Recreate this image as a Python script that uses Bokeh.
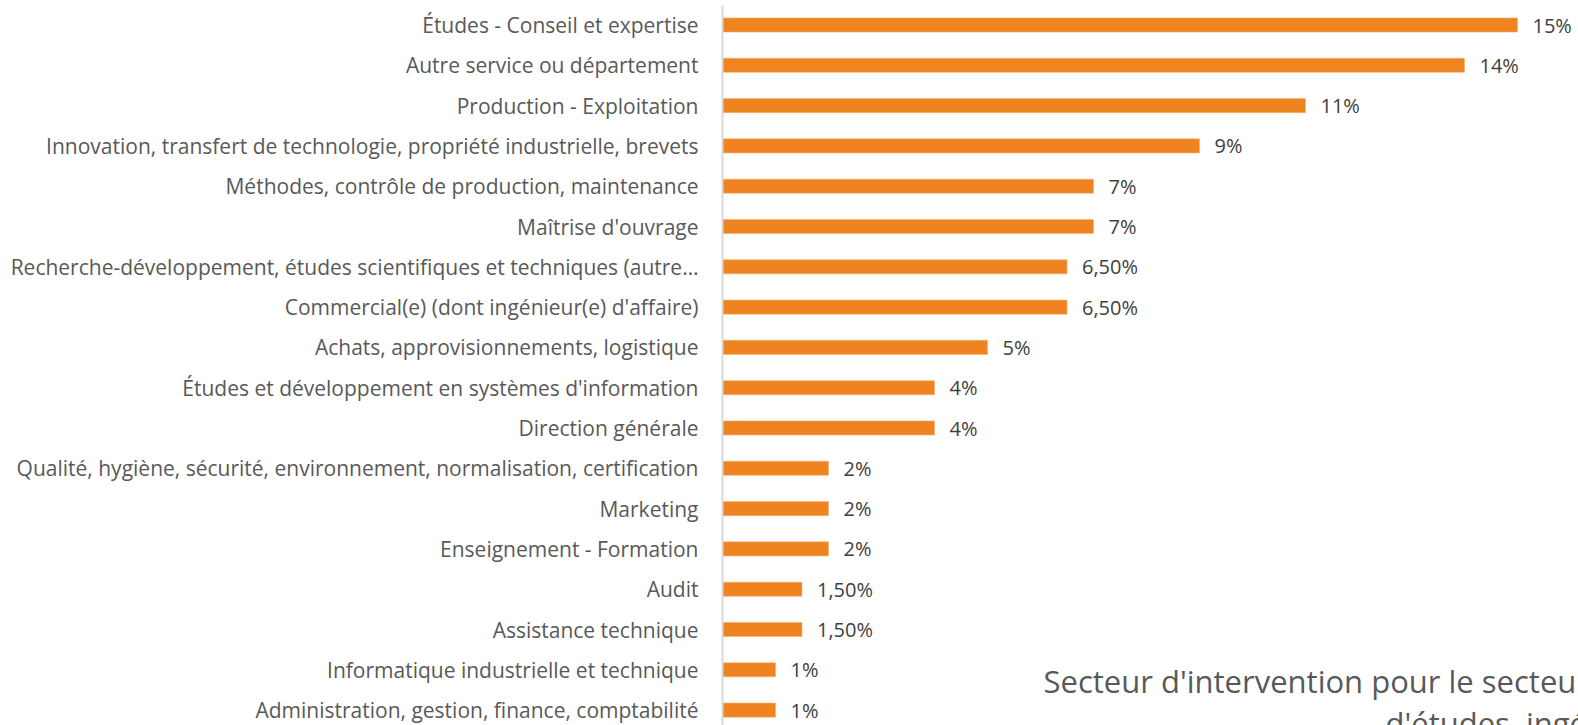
from bokeh.plotting import figure
from bokeh.models import Range1d, FixedTicker, Label, ColumnDataSource
from bokeh.core.properties import value
from bokeh.embed import file_html
from bokeh.resources import INLINE

categories = [
    "Études - Conseil et expertise",
    "Autre service ou département",
    "Production - Exploitation",
    "Innovation, transfert de technologie, propriété industrielle, brevets",
    "Méthodes, contrôle de production, maintenance",
    "Maîtrise d'ouvrage",
    "Recherche-développement, études scientifiques et techniques (autre…",
    "Commercial(e) (dont ingénieur(e) d'affaire)",
    "Achats, approvisionnements, logistique",
    "Études et développement en systèmes d'information",
    "Direction générale",
    "Qualité, hygiène, sécurité, environnement, normalisation, certification",
    "Marketing",
    "Enseignement - Formation",
    "Audit",
    "Assistance technique",
    "Informatique industrielle et technique",
    "Administration, gestion, finance, comptabilité",
]
values = [15, 14, 11, 9, 7, 7, 6.5, 6.5, 5, 4, 4, 2, 2, 2, 1.5, 1.5, 1, 1]
title_lines = [
    "Secteur d'intervention pour le secteur sociétés de conseil, bureaux",
    "d'études, ingénierie",
]


def fmt(v):
    if float(v).is_integer():
        return f"{int(v)}%"
    return f"{v:.2f}".replace(".", ",") + "%"


labels = [fmt(v) for v in values]
idx = list(range(len(categories)))

src = ColumnDataSource(dict(y=idx, v=values, lab=labels))

W, H = 1578, 725
LEFT = 722
TOP = 5
PX_PER_UNIT_X = 53.0
PX_PER_ROW = 40.3
ROW0 = 24.5  # page y of first row centre

x_end = (W - LEFT) / PX_PER_UNIT_X
y_top = -(ROW0 - TOP) / PX_PER_ROW
y_bot = y_top + (H - TOP) / PX_PER_ROW

p = figure(
    width=W, height=H, output_backend="svg", toolbar_location=None,
    x_range=Range1d(0, x_end), y_range=Range1d(y_bot, y_top),
    min_border_left=LEFT, min_border_right=0, min_border_top=TOP, min_border_bottom=0,
)
p.outline_line_color = None
p.xgrid.visible = False
p.ygrid.visible = False
p.xaxis.visible = False

p.hbar(y="y", left=0, right="v", height=0.35, source=src,
       fill_color="#EE8320", line_color="#F5B27A", line_width=0.6)

p.text(x="v", y="y", text="lab", source=src, x_offset=15,
       text_baseline="middle", text_align="left",
       text_font=value("Open Sans"), text_font_size="20px", text_color="#404040")

ax = p.yaxis[0]
ax.ticker = FixedTicker(ticks=idx)
ax.major_label_overrides = {i: c for i, c in zip(idx, categories)}
ax.major_tick_out = 0
ax.major_tick_in = 0
ax.minor_tick_out = 0
ax.minor_tick_in = 0
ax.major_label_standoff = 24
ax.major_label_text_font = "Open Sans"
ax.major_label_text_font_size = "21px"
ax.major_label_text_color = "#595959"
ax.axis_line_color = "#d9d9d9"
ax.axis_line_width = 2


def px_to_x(px):
    return (px - LEFT) / PX_PER_UNIT_X


def py_to_y(py):
    return y_top + (py - TOP) / PX_PER_ROW


# title (partly outside the visible canvas, as in the reference)
for px, py, txt in [(1043, 680, title_lines[0]), (1385, 722, title_lines[1])]:
    p.add_layout(Label(x=px_to_x(px), y=py_to_y(py), text=txt, text_font="Open Sans",
                       text_font_size="31px", text_color="#595959",
                       text_baseline="alphabetic", text_align="left"))

open("out.html", "w").write(file_html(p, INLINE))
